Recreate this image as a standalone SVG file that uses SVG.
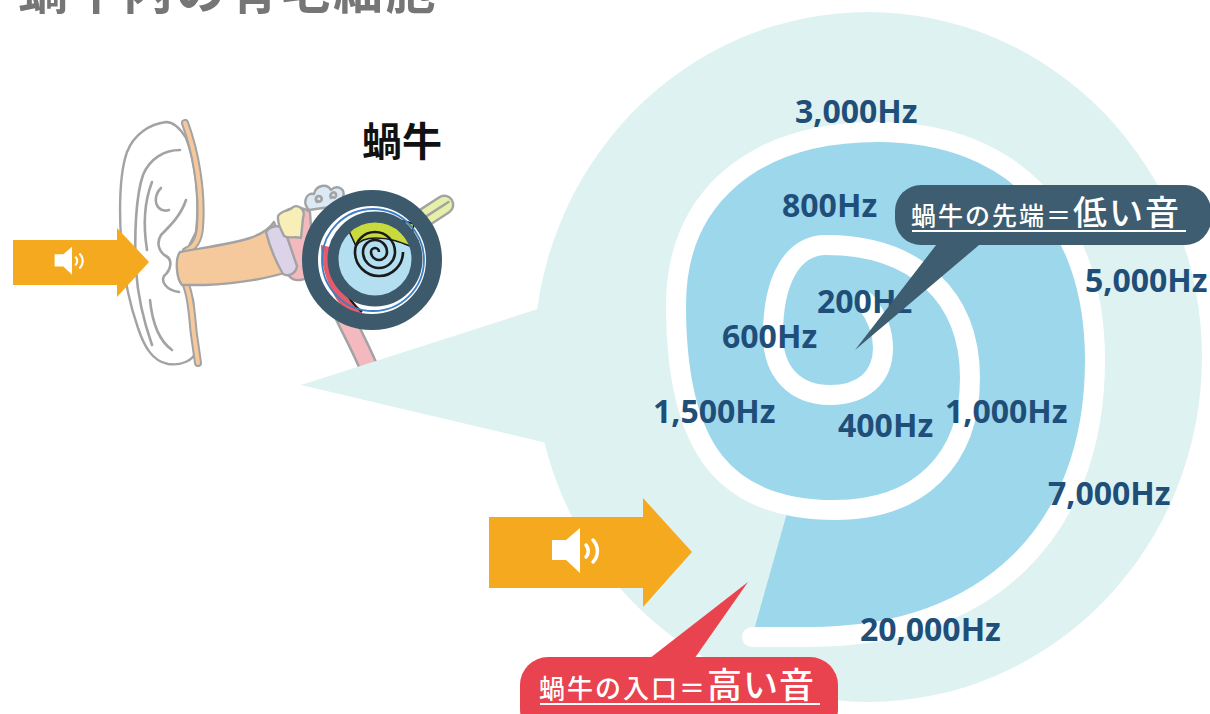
<svg xmlns="http://www.w3.org/2000/svg" xmlns:xlink="http://www.w3.org/1999/xlink" width="1210" height="714" viewBox="0 0 1210 714">
  <style>
    .hz { font-family: "Noto Sans", "Liberation Sans", sans-serif; font-weight: 700; font-size: 32px; fill: #1f4e79; }
    .jp { font-family: "Noto Sans CJK JP", "Noto Sans", sans-serif; }
    .callout-txt { fill: #ffffff; font-weight: 500; }
    .pale { fill: #def2f1; }
    .line { fill: none; stroke: #a3a3a3; stroke-width: 2.6; stroke-linecap: round; stroke-linejoin: round; }
    .outl { stroke: #a3a3a3; stroke-width: 2.4; stroke-linejoin: round; }
    .ring { fill: none; stroke: #3d5a6c; }
    .arrow { fill: #f4a91e; }
  </style>
  <defs>
    <g id="speaker">
      <path d="M-28,-11 H-14 L0,-23 V22 L-14,9 H-28 Z" fill="#ffffff"/>
      <path d="M6,-6 A9,9 0 0 1 6,6" fill="none" stroke="#ffffff" stroke-width="3.5" stroke-linecap="round"/>
      <path d="M13,-11 A16,16 0 0 1 13,11" fill="none" stroke="#ffffff" stroke-width="3.5" stroke-linecap="round"/>
    </g>
  </defs>

  <rect width="1210" height="714" fill="#ffffff"/>

  <!-- heading, running off the top edge -->
  <g id="title">
    <text class="jp" x="18" y="9" font-size="50" font-weight="700" fill="#767676" letter-spacing="2.5">蝸牛内の有毛細胞</text>
  </g>

  <!-- outer / middle ear illustration -->
  <g id="ear">
    <!-- pinna -->
    <path d="M166,122 C150,124 134,134 127,152 C120,172 119,205 121,240 C123,275 130,305 138,328 C144,346 152,361 168,364 C182,366 193,360 196,352 L193,300 L186,284 L186,252 L196,232 C200,200 195,160 186,138 C180,128 173,122 166,122 Z" fill="#ffffff" class="outl" stroke-width="2.8"/>
    <path class="line" d="M180,150 C165,150 150,158 143,175 C136,195 134,235 136,270 C138,300 145,325 152,345"/>
    <path class="line" d="M152,182 C145,200 143,225 147,250"/>
    <path class="line" d="M161,188 C155,194 154,203 159,208 C162,211 166,211 169,210"/>
    <path class="line" d="M186,200 C181,215 171,225 161,235 C156,243 159,252 166,256 C173,260 171,270 164,276 C161,282 166,290 179,292"/>
    <path class="line" d="M150,300 C152,320 158,340 172,350"/>
    <!-- skin layer behind the pinna -->
    <path d="M185,123 C195,150 203,190 200,228 C199,240 195,247 186,251" fill="none" stroke="#a3a3a3" stroke-width="8" stroke-linecap="round"/>
    <path d="M185,123 C195,150 203,190 200,228 C199,240 195,247 186,251" fill="none" stroke="#f6c99c" stroke-width="4" stroke-linecap="round"/>
    <path d="M186,285 C192,300 192,320 194,335 C196,348 197,356 198,363" fill="none" stroke="#a3a3a3" stroke-width="8" stroke-linecap="round"/>
    <path d="M186,285 C192,300 192,320 194,335 C196,348 197,356 198,363" fill="none" stroke="#f6c99c" stroke-width="4" stroke-linecap="round"/>
    <!-- Eustachian tube -->
    <path d="M335,295 C342,315 355,335 369,368" fill="none" stroke="#a3a3a3" stroke-width="20"/>
    <path d="M335,295 C342,315 355,335 369,368" fill="none" stroke="#f4b9be" stroke-width="15"/>
    <!-- middle ear cavity -->
    <path d="M282,214 C290,206 302,206 310,212 L314,272 C306,282 294,282 289,276 Z" fill="#f4b9be" class="outl"/>
    <!-- ear canal -->
    <path d="M180,252 C200,248 228,245 250,238 C262,234 270,228 274,222 L293,270 C272,278 236,284 205,285 L182,285 C176,278 175,258 180,252 Z" fill="#f6c99c" class="outl"/>
    <!-- eardrum -->
    <path d="M266,232 C271,225 281,224 285,231 L297,266 C296,274 288,277 283,274 C276,262 270,248 266,232 Z" fill="#ddd3e8" class="outl"/>
    <!-- ossicles -->
    <path d="M278,216 C282,209 290,212 293,207 C299,204 306,210 303,218 L301,238 C295,236 289,239 284,236 C281,229 277,224 278,216 Z" fill="#f8eeb8" class="outl"/>
    <!-- semicircular canals -->
    <path d="M309,210 C302,203 306,192 314,194 C316,185 327,183 331,190 C337,184 346,189 343,197 C341,203 336,206 330,207 Z" fill="#dbe9f4" class="outl"/>
    <path class="line" stroke-width="1.8" d="M317,202 C314,198 318,194 321,197 C323,200 320,203 318,201"/>
    <path class="line" stroke-width="1.8" d="M331,198 C329,193 334,191 336,194 C337,197 334,199 333,197"/>
    <!-- auditory nerve -->
    <g transform="translate(430,214) rotate(-33)">
      <rect x="-24" y="-9" width="50" height="18" rx="9" fill="#e7f0a8" class="outl"/>
      <path class="line" stroke-width="1.6" d="M-10,0 H22"/>
    </g>
  </g>

  <!-- magnified cochlea inside the lens -->
  <g id="lens">
    <circle cx="372" cy="260" r="55" fill="#ffffff"/>
    <path d="M321,245 C321,275 334,302 354,320 L362,312 C345,298 335,275 334,248 Z" fill="#e85a67"/>
    <path d="M334,248 C335,275 345,298 362,312" fill="none" stroke="#1a1a1a" stroke-width="2.2"/>
    <circle cx="375" cy="259" r="38" fill="#b3dff1"/>
    <path d="M348,229 C362,219 392,216 414,224 L410,246 C400,242 390,238 376,238 C366,238 359,241 356,246 Z" fill="#c9db3c" stroke="#1a1a1a" stroke-width="1.6"/>
    <path d="M379,252 A4,4 0 0 0 371,252 A8,8 0 0 0 387,252 A12,12 0 0 0 363,252 A16,16 0 0 0 395,252 A20,20 0 0 0 355,252 A24,24 0 0 0 403,252" fill="none" stroke="#1a1a1a" stroke-width="2.6"/>
    <circle class="ring" cx="375" cy="259" r="42" stroke-width="11"/>
    <circle cx="373" cy="260" r="51" fill="none" stroke="#3b7fc4" stroke-width="1.8"/>
    <circle class="ring" cx="372" cy="260" r="62" stroke-width="16"/>
  </g>

  <!-- enlarged spiral view -->
  <g id="spiral">
    <path class="pale" d="M301,385 L541,308 L600,300 L600,450 L547,443 Z"/>
    <ellipse class="pale" cx="868" cy="357" rx="334" ry="345"/>
    <path fill="#9dd7ec" d="M752,637 L789,506 L835,510 C724,510 676,448 676,305 C676,198 753,132 878,132 C1013,132 1095,219 1095,360 C1095,532 987,637 810,637 Z"/>
    <path fill="none" stroke="#ffffff" stroke-width="20" stroke-linecap="round" stroke-linejoin="round" d="M866,302 C876,315 883,330 883,348 C883,377 863,395 830,395 C795,395 773,372 773,335 C773,279 793,245 826,245 C915,245 970,296 970,378 C970,460 919,510 835,510 C724,510 676,448 676,305 C676,198 753,132 878,132 C1013,132 1095,219 1095,360 C1095,532 987,637 810,637 L752,637"/>
  </g>

  <!-- frequency labels -->
  <g id="freq-labels">
    <text class="hz" x="795" y="123">3,000Hz</text>
    <text class="hz" x="782" y="217">800Hz</text>
    <text class="hz" x="1085" y="292">5,000Hz</text>
    <text class="hz" x="817" y="313">200Hz</text>
    <text class="hz" x="722" y="348">600Hz</text>
    <text class="hz" x="653" y="423">1,500Hz</text>
    <text class="hz" x="838" y="437">400Hz</text>
    <text class="hz" x="945" y="423">1,000Hz</text>
    <text class="hz" x="1048" y="505">7,000Hz</text>
    <text class="hz" x="860" y="641">20,000Hz</text>
  </g>

  <!-- label for the small drawing -->
  <g id="cochlea-label">
    <text class="jp" x="362" y="156" font-size="40" font-weight="700" fill="#111111">蝸牛</text>
  </g>

  <!-- callout: tip of the cochlea -->
  <g id="callout-apex">
    <path d="M940,240 L985,240 L855,350 Z" fill="#3e5d70"/>
    <rect x="895" y="185" width="316" height="60" rx="26" fill="#3e5d70"/>
    <text class="jp callout-txt" y="225"><tspan x="911" font-size="25" letter-spacing="2">蝸牛の先端＝</tspan><tspan font-size="34" letter-spacing="2">低い音</tspan></text>
    <line x1="912" y1="231" x2="1186" y2="231" stroke="#ffffff" stroke-width="2"/>
  </g>

  <!-- callout: entrance of the cochlea -->
  <g id="callout-base">
    <path d="M645,662 L692,662 L748,582 Z" fill="#e8434f"/>
    <rect x="520" y="657" width="318" height="80" rx="28" fill="#e8434f"/>
    <text class="jp callout-txt" y="698"><tspan x="539" font-size="26" letter-spacing="2">蝸牛の入口＝</tspan><tspan font-size="35" letter-spacing="1">高い音</tspan></text>
    <line x1="540" y1="704" x2="820" y2="704" stroke="#ffffff" stroke-width="2"/>
  </g>

  <!-- sound arrows -->
  <g id="connectors">
    <g id="sound-in-small">
      <path class="arrow" d="M13,240 H117 V228 L149,262 L117,297 V285 H13 Z"/>
      <use xlink:href="#speaker" transform="translate(72,261) scale(0.62)"/>
    </g>
    <g id="sound-in-large">
      <path class="arrow" d="M489,517 H643 V498 L692,552 L643,607 V588 H489 Z"/>
      <use xlink:href="#speaker" transform="translate(580,551)"/>
    </g>
  </g>
</svg>
